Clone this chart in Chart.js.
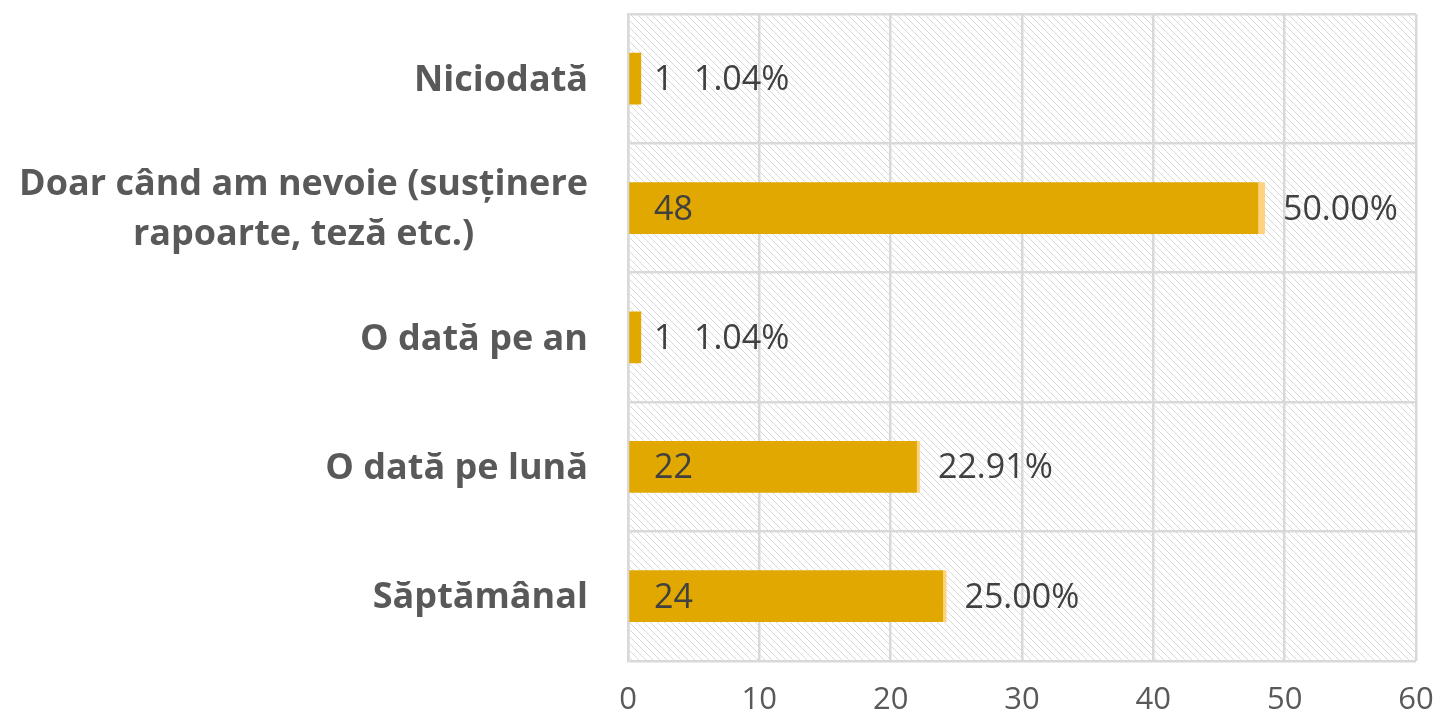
<!DOCTYPE html>
<html lang="ro">
<head>
  <meta charset="UTF-8">
  <title>Frecvență</title>
  <style>
    body {
      margin: 0;
      background-color: white;
      overflow: hidden;
    }
    .container {
      width: 1443px;
      height: 712px;
      position: relative;
    }
  </style>
  <script src="https://cdn.jsdelivr.net/npm/chart.js"></script>
</head>
<body>
  <div class="container">
    <canvas id="freqChart"></canvas>
  </div>

  <script>
    const categories = [
      'Niciodată',
      ['Doar când am nevoie (susținere', 'rapoarte, teză etc.)'],
      'O dată pe an',
      'O dată pe lună',
      'Săptămânal'
    ];
    const counts = [1, 48, 1, 22, 24];
    const percents = [1.04, 50.00, 1.04, 22.91, 25.00];
    const xTicks = [0, 10, 20, 30, 40, 50, 60];

    const FONT = "'Open Sans', sans-serif";

    // diagonal hatch for the plot background
    const makeHatch = () => {
      const s = 7;
      const c = document.createElement('canvas');
      c.width = s; c.height = s;
      const g = c.getContext('2d');
      g.fillStyle = 'white';
      g.fillRect(0, 0, s, s);
      g.strokeStyle = '#dadada';
      g.lineWidth = 1;
      [-s, 0, s].forEach(o => {
        g.beginPath();
        g.moveTo(o, 0);
        g.lineTo(o + s, s);
        g.stroke();
      });
      return g.createPattern(c, 'repeat');
    };

    const hatchPlugin = {
      id: 'hatch',
      beforeDraw(chart) {
        const { ctx, chartArea: a } = chart;
        ctx.save();
        ctx.fillStyle = makeHatch();
        ctx.fillRect(a.left, a.top, a.right - a.left, a.bottom - a.top);
        ctx.restore();
      }
    };

    // category labels (right aligned, wrapped lines centred on each other)
    const catLabelPlugin = {
      id: 'catLabels',
      afterDraw(chart) {
        const { ctx, chartArea: a } = chart;
        const y = chart.scales.y;
        ctx.save();
        ctx.font = 'bold 36px ' + FONT;
        ctx.fillStyle = '#595959';
        ctx.textBaseline = 'middle';
        const right = a.left - 40;
        const lh = 50;
        categories.forEach((lab, i) => {
          const lines = Array.isArray(lab) ? lab : [lab];
          const w = Math.max(...lines.map(l => ctx.measureText(l).width));
          const cx = right - w / 2;
          const cy = y.getPixelForValue(i) + 2;
          ctx.textAlign = 'center';
          lines.forEach((l, j) => {
            ctx.fillText(l, cx, cy + (j - (lines.length - 1) / 2) * lh);
          });
        });
        ctx.restore();
      }
    };

    // value labels: count inside the base, percentage after the bar
    const valueLabelPlugin = {
      id: 'valueLabels',
      afterDatasetsDraw(chart) {
        const { ctx, chartArea: a } = chart;
        const x = chart.scales.x, y = chart.scales.y;
        ctx.save();
        ctx.font = '34px ' + FONT;
        ctx.fillStyle = '#404040';
        ctx.textBaseline = 'middle';
        ctx.textAlign = 'left';
        counts.forEach((v, i) => {
          const cy = y.getPixelForValue(i) + 2;
          ctx.fillText(String(v), a.left + 26, cy);
          const end = x.getPixelForValue(v + percents[i] / 100);
          const px = Math.max(end + 18, a.left + 66);
          ctx.fillText(percents[i].toFixed(2) + '%', px, cy);
        });
        ctx.restore();
      }
    };

    const ctx = document.getElementById('freqChart').getContext('2d');
    new Chart(ctx, {
      type: 'bar',
      data: {
        labels: categories,
        datasets: [{
          label: 'Număr',
          data: counts,
          backgroundColor: '#E0A800',
          barPercentage: 0.5,
          categoryPercentage: 0.8
        }, {
          label: 'Procent',
          data: percents.map(p => p / 100),
          backgroundColor: '#FFD27F',
          barPercentage: 0.5,
          categoryPercentage: 0.8
        }]
      },
      options: {
        indexAxis: 'y',
        responsive: true,
        maintainAspectRatio: false,
        animation: false,
        layout: {
          padding: { top: 14, right: 0, bottom: -28, left: 0 }
        },
        scales: {
          x: {
            stacked: true,
            min: 0,
            max: 60,
            afterBuildTicks: s => { s.ticks = xTicks.map(v => ({ value: v })); },
            afterFit: s => { s.paddingRight = 27; },
            grid: { color: '#d9d9d9', lineWidth: 2.5, drawTicks: false },
            border: { display: false },
            ticks: {
              padding: 21,
              color: '#595959',
              font: { family: FONT, size: 31 }
            }
          },
          y: {
            stacked: true,
            afterFit: s => { s.width = 628; },
            grid: { color: '#d9d9d9', lineWidth: 2.5, drawTicks: false },
            border: { color: '#d9d9d9', width: 2.5 },
            ticks: { display: false }
          }
        },
        plugins: {
          legend: { display: false },
          tooltip: { enabled: false }
        }
      },
      plugins: [hatchPlugin, catLabelPlugin, valueLabelPlugin]
    });
  </script>
</body>
</html>
